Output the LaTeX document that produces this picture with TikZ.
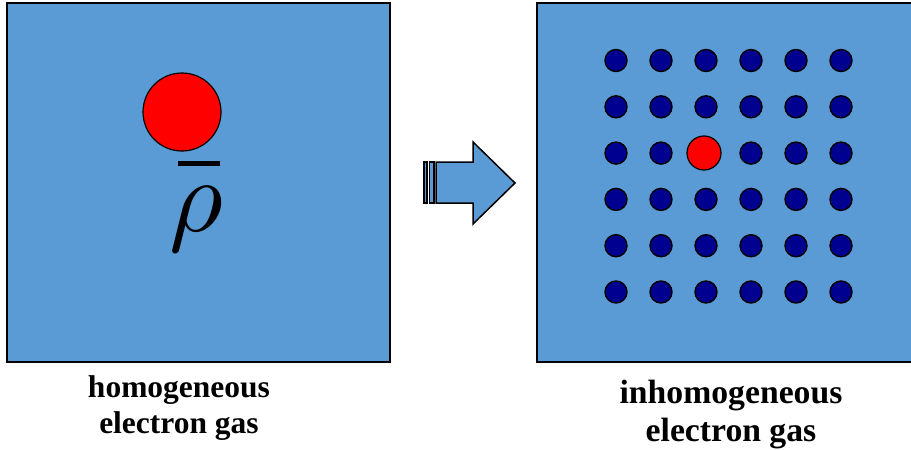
\documentclass[tikz,border=0pt]{standalone}
\usepackage{fontspec}
\setmainfont{Liberation Serif}
\begin{document}
\begin{tikzpicture}[x=1pt,y=-1pt,
  panel/.style={fill=panelblue,draw=black,line width=2pt},
  electron/.style={circle,fill=dotblue,draw=black,line width=1.4pt,minimum size=22pt,inner sep=0pt},
  probe/.style={circle,fill=red,draw=black,line width=1.2pt,inner sep=0pt},
  caption/.style={inner sep=0pt,anchor=base,font=\bfseries}
]
\definecolor{panelblue}{HTML}{5B9BD5}
\definecolor{dotblue}{HTML}{000090}
\useasboundingbox (0,0) rectangle (911,450);
\clip (0,0) rectangle (911,450);

% homogeneous gas panel
\draw[panel] (7,3) rectangle (390,362);
\node[probe,minimum size=78pt] (lprobe) at (182,112) {};
\fill (178,161) rectangle (220,166);
\node[inner sep=0pt,anchor=base,scale=10.4] (rho) at (196,231) {$\rho$};

% inhomogeneous gas panel
\draw[panel] (537,3) rectangle (920,362);
\foreach \i in {0,...,5}{
  \foreach \j in {0,...,5}{
    \ifnum\i=2 \ifnum\j=2 \else
      \node[electron] (e\i\j) at (616+45*\i,60.5+46.3*\j) {};
    \fi\else
      \node[electron] (e\i\j) at (616+45*\i,60.5+46.3*\j) {};
    \fi
  }
}
\node[probe,minimum size=34pt] (rprobe) at (704,153) {};

% striped arrow between the panels
\begin{scope}[fill=panelblue,draw=black,line width=1.5pt,line join=miter]
  \filldraw (424,162) rectangle (427,203);
  \filldraw (429.5,162) rectangle (434,203);
  \filldraw (436,162) -- (473,162) -- (473,142) -- (515,183) -- (473,224) -- (473,203) -- (436,203) -- cycle;
\end{scope}

% captions
\node[caption,font=\bfseries\fontsize{31.5}{36}\selectfont] (l1) at (179,397) {homogeneous};
\node[caption,font=\bfseries\fontsize{31.5}{36}\selectfont] (l2) at (179,433) {electron gas};
\node[caption,font=\bfseries\fontsize{33.7}{38}\selectfont] (r1) at (731,403) {inhomogeneous};
\node[caption,font=\bfseries\fontsize{33.7}{38}\selectfont] (r2) at (731,441) {electron gas};
\end{tikzpicture}
\end{document}
